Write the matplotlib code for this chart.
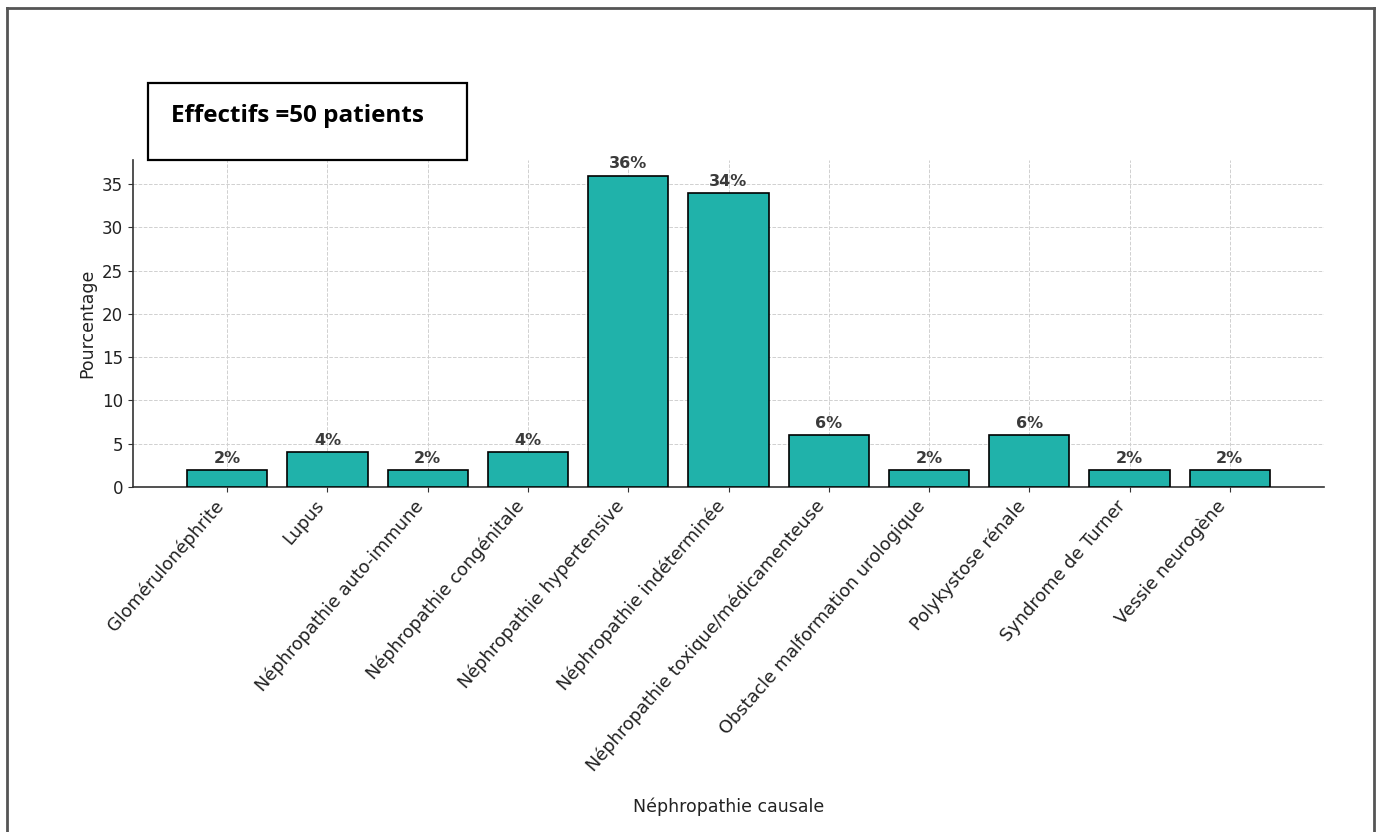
import matplotlib
matplotlib.use("Agg")
from matplotlib import pyplot as plt, patches as mpatches, lines as mlines

causes = ["Glomérulonéphrite", "Lupus", "Néphropathie auto-immune",
          "Néphropathie congénitale", "Néphropathie hypertensive",
          "Néphropathie indéterminée", "Néphropathie toxique/médicamenteuse",
          "Obstacle malformation urologique", "Polykystose rénale",
          "Syndrome de Turner", "Vessie neurogène"]
percent = [2, 4, 2, 4, 36, 34, 6, 2, 6, 2, 2]
box_text = "Effectifs =50 patients"

W, H = 1382, 832
fig = plt.figure(figsize=(W / 100, H / 100), dpi=100)
ax = fig.add_axes([133 / W, 1 - 487 / H, (1324 - 133) / W, (487 - 160) / H])

bars = ax.bar(causes, percent, width=0.8, color="#20B2AA", edgecolor="black",
              linewidth=1.2, zorder=3)
for b, v in zip(bars, percent):
    ax.annotate(f"{v}%", (b.get_x() + b.get_width() / 2, b.get_height()),
                xytext=(0, 3), textcoords="offset points", ha="center", va="bottom",
                fontsize=11.5, fontweight="bold", color="#3a3a3a", zorder=4)

ax.grid(True, linestyle="--", color="#d0d0d0", linewidth=0.7, zorder=0)
ax.set_axisbelow(True)
for s in ["top", "right"]:
    ax.spines[s].set_visible(False)
for s in ["left", "bottom"]:
    ax.spines[s].set_color("#333333")
    ax.spines[s].set_linewidth(1.2)
ax.tick_params(axis="both", colors="#333333", labelsize=12, labelcolor="#222222")
plt.setp(ax.get_xticklabels(), rotation=49, ha="right", fontsize=12.8)

ax.set_ylabel("Pourcentage", fontsize=12.5, color="#222222", labelpad=4)
ax.set_xlabel("Néphropathie causale", fontsize=12.5, color="#222222")
ax.xaxis.set_label_coords(0.5, -(797 - 487) / (487 - 160))

# outer frame of the picture
frame_kw = dict(transform=fig.transFigure, color="#555555", linewidth=2)
fig.add_artist(mlines.Line2D([7 / W, 7 / W], [0, 1 - 8 / H], **frame_kw))
fig.add_artist(mlines.Line2D([7 / W, 1374 / W], [1 - 8 / H, 1 - 8 / H], **frame_kw))
fig.add_artist(mlines.Line2D([1374 / W, 1374 / W], [0, 1 - 8 / H], **frame_kw))

# sample size box
fig.add_artist(mpatches.Rectangle((148 / W, 1 - 160 / H), 319 / W, 77 / H,
                                  transform=fig.transFigure, facecolor="white",
                                  edgecolor="black", linewidth=1.6, zorder=5))
fig.text(171 / W, 1 - 122 / H, box_text, fontsize=17.5, fontweight="bold",
         family=["Open Sans", "DejaVu Sans"], va="baseline", ha="left", zorder=6)

fig.savefig("out.png", dpi=100)
